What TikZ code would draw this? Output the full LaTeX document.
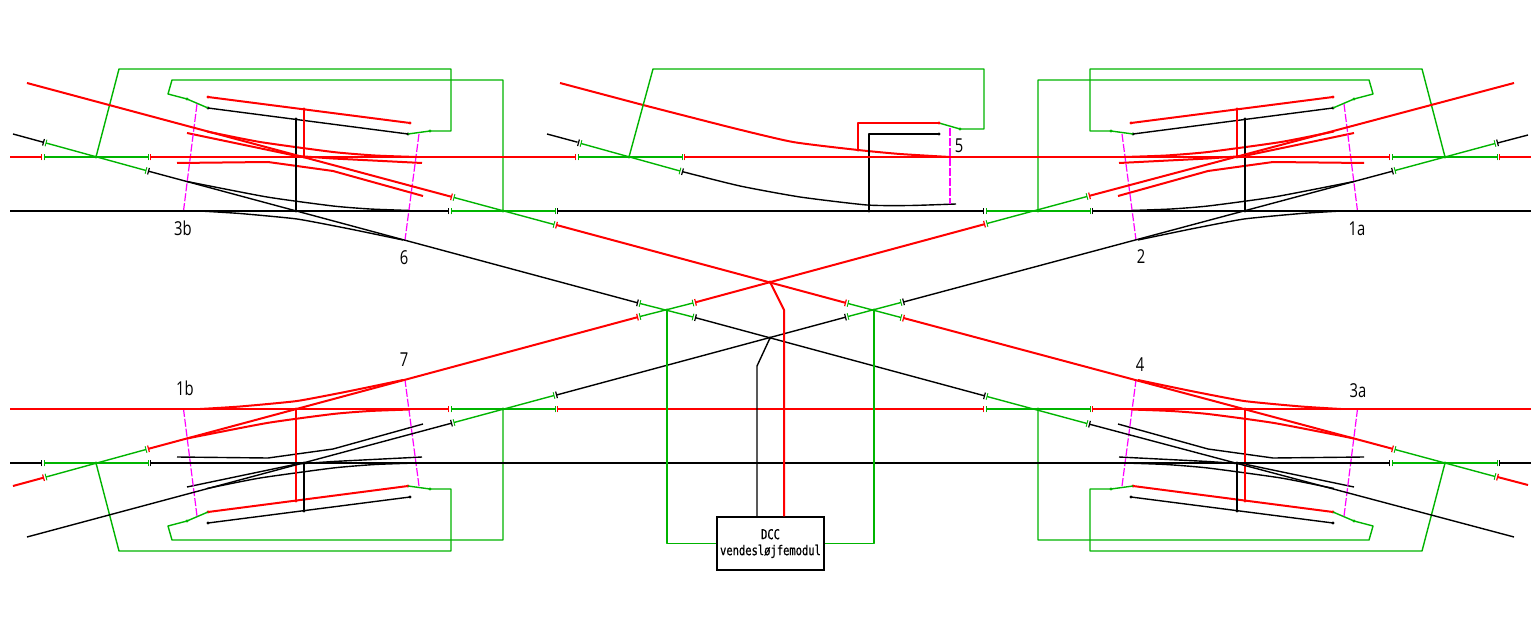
\documentclass[tikz,border=0pt]{standalone}
\usepackage{fontspec}
\newfontfamily\labfont[FakeStretch=0.77]{Open Sans}
\newfontfamily\boxfont[FakeStretch=0.77,FakeBold=0.6]{DejaVu Sans Mono}
\definecolor{trkgreen}{RGB}{0,180,0}
\definecolor{wiremag}{RGB}{255,0,255}
\tikzset{
  rd/.style={draw=red,line width=1pt,line join=round},
  bk/.style={draw=black,line width=0.7pt,line join=round},
  gr/.style={draw=trkgreen,line width=0.7pt,line join=round},
  mg/.style={draw=wiremag,line width=0.6pt,dash pattern=on 4pt off 1pt},
  lab/.style={font=\labfont\fontsize{9.6}{11}\selectfont,inner sep=0pt},
  dccbox/.style={draw=black,line width=0.7pt,minimum width=53.5pt,minimum height=26.5pt,inner sep=0pt,align=center,font=\boxfont\fontsize{6.8}{8}\selectfont},
}
% green section with insulating gaps: x1 y1 x2 y2 outer-style-1 outer-style-2
\newcommand\seg[6]{%
  \pgfmathsetmacro\sgL{sqrt((#3-#1)*(#3-#1)+(#4-#2)*(#4-#2))}%
  \pgfmathsetmacro\sgU{(#3-#1)/\sgL}%
  \pgfmathsetmacro\sgV{(#4-#2)/\sgL}%
  \draw[gr] (#1,#2)--(#3,#4);
  \draw[gr,line width=0.45pt] (#1-3.4*\sgV,#2+3.4*\sgU)--(#1+3.4*\sgV,#2-3.4*\sgU);
  \draw[gr,line width=0.45pt] (#3-3.4*\sgV,#4+3.4*\sgU)--(#3+3.4*\sgV,#4-3.4*\sgU);
  \draw[#5,line width=0.6pt] (#1-2.6*\sgU-3.4*\sgV,#2-2.6*\sgV+3.4*\sgU)--(#1-2.6*\sgU+3.4*\sgV,#2-2.6*\sgV-3.4*\sgU);
  \draw[#6,line width=0.6pt] (#3+2.6*\sgU-3.4*\sgV,#4+2.6*\sgV+3.4*\sgU)--(#3+2.6*\sgU+3.4*\sgV,#4+2.6*\sgV-3.4*\sgU);
}
\newcommand\dotat[2]{\fill[#1] #2 circle (1.7);}
% one double slip: #1 = style of the rails drawn red in the top-left, #2 = the other
\newcommand\slip[4]{%
  \draw[#1] plot[smooth,tension=0.35] coordinates {(207,131.5)(260,142)(333,152)(375,155.5)(417,157)};
  \draw[#1] (187,133)--(297,156)--(333,158.5)--(422,163);
  \draw[#1] (177,163)--(268,162)--(333,171)--(423,196);
  \draw[#2] plot[smooth,tension=0.35] coordinates {(187,181.5)(267,197)(333,206)(370,209)(410,210.5)};
  \draw[#2] plot[smooth,tension=0.3] coordinates {(200,211)(240,213.5)(297,219)(350,229)(403,240)};
  \draw[#2] (208,108)--(408,134);
  \draw[#1] (208,97)--(410,123);
  \draw[#2] (296,211)--(296,119);
  \draw[#1] (304,157)--(304,109);
  \dotat{#3}{(208,108)}\dotat{#3}{(408,134)}\dotat{#3}{(296,119)}\dotat{#3}{(296,211)}
  \dotat{#4}{(208,97)}\dotat{#4}{(410,123)}\dotat{#4}{(304,109)}\dotat{#4}{(304,157)}
  \draw[gr] (408,134)--(430,131)--(451,131)--(451,69)--(119,69)--(96,157);
  \draw[gr] (208,108)--(187,99)--(168,94)--(172,80)--(503,80)--(503,211);
  \dotat{trkgreen}{(430,131)}\dotat{trkgreen}{(187,99)}
  \dotat{trkgreen}{(96,157)}\dotat{trkgreen}{(503,211)}
  \draw[mg] (197,104)--(183.5,211);
  \draw[mg] (419,134)--(405,240);
}
\begin{document}
\begin{tikzpicture}[x=0.5pt,y=-0.5pt]
\fill[white] (0,0) rectangle (1540,620);
\useasboundingbox (0,0) rectangle (1540,620);
% the four double slips
\slip{rd}{bk}{black}{red}
\begin{scope}[shift={(1541,0)},xscale=-1]\slip{rd}{bk}{black}{red}\end{scope}
\begin{scope}[shift={(0,620)},yscale=-1]\slip{bk}{rd}{red}{black}\end{scope}
\begin{scope}[shift={(1541,620)},xscale=-1,yscale=-1]\slip{bk}{rd}{red}{black}\end{scope}
% centre turnout
\draw[rd] plot[smooth,tension=0.35] coordinates {(643,105)(733,128)(793,142)(858,150)(900,154)(950,157)};
\draw[rd] (560,83)--(643,105);
\draw[rd] (858,150)--(858,123)--(939,123);
\draw[gr] (939,123)--(960,129)--(984,129)--(984,69)--(653,69)--(629,157);
\dotat{red}{(858,150)}\dotat{red}{(939,123)}\dotat{trkgreen}{(960,129)}\dotat{trkgreen}{(629,157)}
\draw[bk] (547,134)--(577.5,142.2);
\seg{581}{143.5}{680}{171}{bk}{bk}
\draw[bk] plot[smooth,tension=0.35] coordinates {(682.6,171.7)(740,186)(800,197)(867,205)(910,205.5)(956,204)};
\draw[bk] (869,211)--(869,134)--(939,134);
\dotat{black}{(939,134)}\dotat{black}{(869,211)}
\draw[mg] (950,128)--(950,204);
% horizontal tracks
\draw[rd] (10,157)--(41.4,157) (150.6,157)--(575.4,157) (684.6,157)--(1389.4,157) (1499.6,157)--(1531,157);
\draw[bk] (10,211)--(448.4,211) (557.6,211)--(983.4,211) (1092.6,211)--(1531,211);
\draw[rd] (10,409)--(448.4,409) (557.6,409)--(983.4,409) (1092.6,409)--(1531,409);
\draw[bk] (10,463)--(41.4,463) (150.6,463)--(1389.4,463) (1499.6,463)--(1531,463);
\seg{44}{157}{148}{157}{rd}{rd}
\seg{578}{157}{682}{157}{rd}{rd}
\seg{1392}{157}{1497}{157}{rd}{rd}
\seg{451}{211}{555}{211}{bk}{bk}
\seg{986}{211}{1090}{211}{bk}{bk}
\seg{451}{409}{555}{409}{rd}{rd}
\seg{986}{409}{1090}{409}{rd}{rd}
\seg{44}{463}{148}{463}{bk}{bk}
\seg{1392}{463}{1497}{463}{bk}{bk}
% diagonals falling to the right
\draw[rd] (27,83)--(451.5,196.8) (556.5,225)--(845.5,302.8) (903.5,318)--(1392.5,448.8) (1497.5,477)--(1528,485);
\seg{454}{197.5}{554}{224.5}{rd}{rd}
\seg{848}{303.5}{901}{317.5}{rd}{rd}
\seg{1395}{449.5}{1495}{476.5}{rd}{rd}
\draw[bk] (13,134)--(43.5,142.3) (148.5,171.2)--(637.5,302.8) (695.5,317.7)--(984.5,395.8) (1089.5,424.2)--(1514,537);
\seg{46}{143}{146}{170.5}{bk}{bk}
\seg{640}{303.5}{693}{317}{bk}{bk}
\seg{987}{396.5}{1087}{423.5}{bk}{bk}
% diagonals rising to the right
\draw[bk] (27,537)--(451.5,423.2) (556.5,395)--(845.5,317.2) (903.5,302)--(1392.5,171.2) (1497.5,143)--(1528,135);
\seg{454}{422.5}{554}{395.5}{bk}{bk}
\seg{848}{316.5}{901}{302.5}{bk}{bk}
\seg{1395}{170.5}{1495}{143.5}{bk}{bk}
\draw[rd] (13,486)--(43.5,477.7) (148.5,448.8)--(637.5,317.2) (695.5,302.3)--(984.5,224.2) (1089.5,195.8)--(1514,83);
\seg{46}{477}{146}{449.5}{rd}{rd}
\seg{640}{316.5}{693}{303}{rd}{rd}
\seg{987}{223.5}{1087}{196.5}{rd}{rd}
% DCC module
\node[dccbox] (dcc) at (770.5,543.5) {DCC\\vendesl\o jfemodul};
\coordinate (rw) at (784,310);
\coordinate (bw) at (757,366);
\coordinate (gl) at (667,310);
\coordinate (gr2) at (874,310);
\draw[rd] (770,282)--(rw)--(rw |- dcc.north);
\draw[bk] (770,338)--(bw)--(bw |- dcc.north);
\draw[gr] (gl)--(gl |- dcc.west)--(dcc.west);
\draw[gr] (gr2)--(gr2 |- dcc.east)--(dcc.east);
\dotat{red}{(770,282)}\dotat{black}{(770,338)}\dotat{trkgreen}{(667,310)}\dotat{trkgreen}{(874,310)}
% labels
\node[lab] (l3b) at (183,228) {3b};
\node[lab] (l6) at (404,258) {6};
\node[lab] (l5) at (959,146) {5};
\node[lab] (l2) at (1141,257) {2};
\node[lab] (l1a) at (1357,229) {1a};
\node[lab] (l1b) at (185,388) {1b};
\node[lab] (l7) at (404,360) {7};
\node[lab] (l4) at (1140,365) {4};
\node[lab] (l3a) at (1358,391) {3a};
\end{tikzpicture}
\end{document}
